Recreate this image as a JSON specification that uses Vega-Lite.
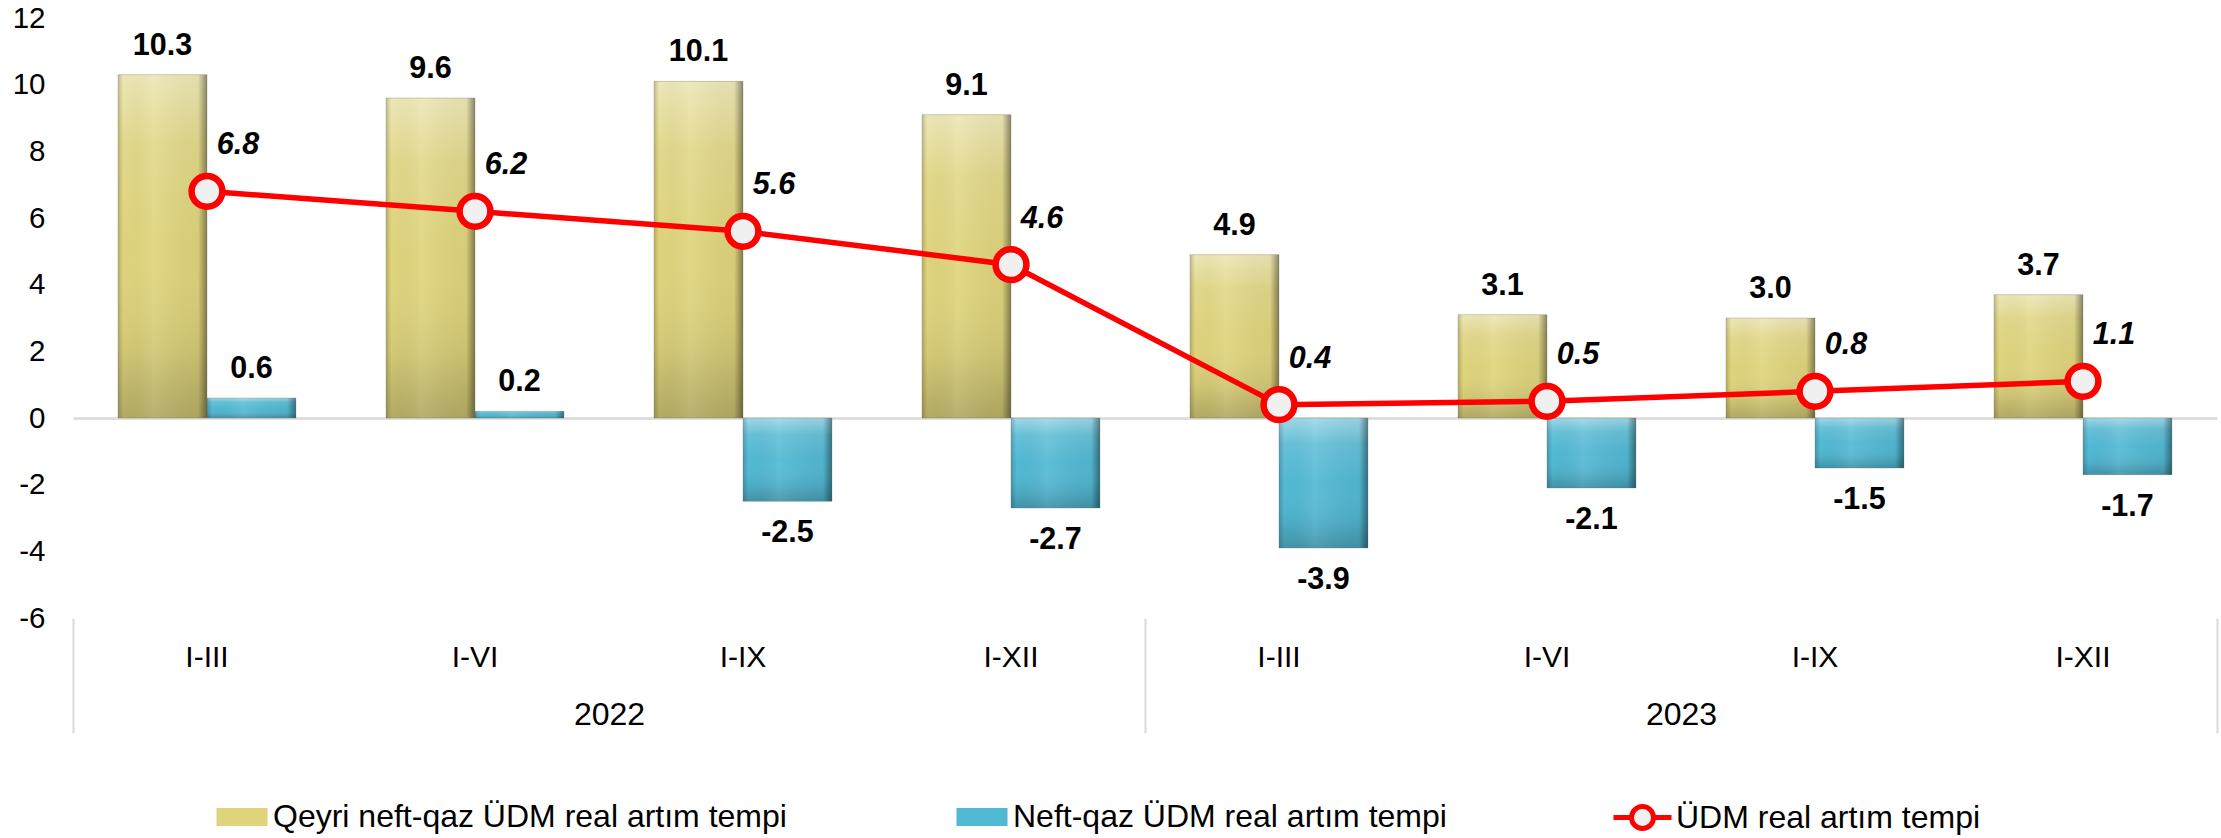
{
  "$schema": "https://vega.github.io/schema/vega-lite/v6.json",
  "width": 2144,
  "height": 600,
  "autosize": "none",
  "padding": {"left": 73, "top": 18, "right": 4, "bottom": 220},
  "background": "white",
  "config": {
    "font": "Liberation Sans",
    "view": {"stroke": null},
    "axis": {"labelFont": "Liberation Sans", "labelColor": "#000000"},
    "locale": {"number": {"decimal": ".", "thousands": ",", "grouping": [3], "currency": ["$", ""], "minus": "-"}}
  },
  "data": {
    "values": [
      {"year": "2022", "key": "2022 I-III", "series": "Qeyri neft-qaz ÜDM real artım tempi", "value": 10.3},
      {"year": "2022", "key": "2022 I-III", "series": "Neft-qaz ÜDM real artım tempi", "value": 0.6},
      {"year": "2022", "key": "2022 I-III", "series": "ÜDM real artım tempi", "value": 6.8},
      {"year": "2022", "key": "2022 I-VI", "series": "Qeyri neft-qaz ÜDM real artım tempi", "value": 9.6},
      {"year": "2022", "key": "2022 I-VI", "series": "Neft-qaz ÜDM real artım tempi", "value": 0.2},
      {"year": "2022", "key": "2022 I-VI", "series": "ÜDM real artım tempi", "value": 6.2},
      {"year": "2022", "key": "2022 I-IX", "series": "Qeyri neft-qaz ÜDM real artım tempi", "value": 10.1},
      {"year": "2022", "key": "2022 I-IX", "series": "Neft-qaz ÜDM real artım tempi", "value": -2.5},
      {"year": "2022", "key": "2022 I-IX", "series": "ÜDM real artım tempi", "value": 5.6},
      {"year": "2022", "key": "2022 I-XII", "series": "Qeyri neft-qaz ÜDM real artım tempi", "value": 9.1},
      {"year": "2022", "key": "2022 I-XII", "series": "Neft-qaz ÜDM real artım tempi", "value": -2.7},
      {"year": "2022", "key": "2022 I-XII", "series": "ÜDM real artım tempi", "value": 4.6},
      {"year": "2023", "key": "2023 I-III", "series": "Qeyri neft-qaz ÜDM real artım tempi", "value": 4.9},
      {"year": "2023", "key": "2023 I-III", "series": "Neft-qaz ÜDM real artım tempi", "value": -3.9},
      {"year": "2023", "key": "2023 I-III", "series": "ÜDM real artım tempi", "value": 0.4},
      {"year": "2023", "key": "2023 I-VI", "series": "Qeyri neft-qaz ÜDM real artım tempi", "value": 3.1},
      {"year": "2023", "key": "2023 I-VI", "series": "Neft-qaz ÜDM real artım tempi", "value": -2.1},
      {"year": "2023", "key": "2023 I-VI", "series": "ÜDM real artım tempi", "value": 0.5},
      {"year": "2023", "key": "2023 I-IX", "series": "Qeyri neft-qaz ÜDM real artım tempi", "value": 3.0},
      {"year": "2023", "key": "2023 I-IX", "series": "Neft-qaz ÜDM real artım tempi", "value": -1.5},
      {"year": "2023", "key": "2023 I-IX", "series": "ÜDM real artım tempi", "value": 0.8},
      {"year": "2023", "key": "2023 I-XII", "series": "Qeyri neft-qaz ÜDM real artım tempi", "value": 3.7},
      {"year": "2023", "key": "2023 I-XII", "series": "Neft-qaz ÜDM real artım tempi", "value": -1.7},
      {"year": "2023", "key": "2023 I-XII", "series": "ÜDM real artım tempi", "value": 1.1}
    ]
  },
  "resolve": {"scale": {"x": "independent"}, "axis": {"x": "independent"}},
  "layer": [
    {
      "mark": {"type": "text", "opacity": 0},
      "encoding": {
        "x": {
          "field": "year", "type": "nominal",
          "scale": {"type": "band", "paddingInner": 0, "paddingOuter": 0},
          "axis": {
            "orient": "bottom", "title": null, "domain": false, "grid": false,
            "ticks": true, "tickBand": "extent",
            "tickSize": 115, "tickColor": "#d9d9d9", "tickWidth": 2,
            "labelPadding": -34, "labelFontSize": 32,
            "labelAngle": 0
          }
        },
        "text": {"field": "year"}
      }
    },
    {
      "encoding": {
        "x": {
          "field": "key", "type": "nominal", "sort": null,
          "scale": {"paddingInner": 0.336, "paddingOuter": 0.168},
          "axis": {
            "orient": "bottom", "title": null, "domain": false, "ticks": false, "grid": false,
            "labelAngle": 0, "labelFontSize": 30, "labelPadding": 24,
            "labelExpr": "split(datum.value, ' ')[1]"
          }
        },
        "y": {
          "field": "value", "type": "quantitative",
          "scale": {"domain": [-6, 12], "nice": false},
          "axis": {
            "title": null, "domain": false, "ticks": false,
            "values": [-6, -4, -2, 0, 2, 4, 6, 8, 10, 12],
            "labelFontSize": 29.5, "labelPadding": 28,
            "grid": true,
            "gridColor": {"condition": {"test": "datum.value === 0", "value": "#d9d9d9"}, "value": "transparent"},
            "gridWidth": 2.5
          }
        }
      },
      "layer": [
        {
          "transform": [{"filter": "datum.series !== 'ÜDM real artım tempi'"}],
          "encoding": {
            "xOffset": {
              "field": "series", "type": "nominal",
              "scale": {"domain": ["Qeyri neft-qaz ÜDM real artım tempi", "Neft-qaz ÜDM real artım tempi"], "paddingInner": 0, "paddingOuter": 0}
            }
          },
          "layer": [
            {
              "mark": {"type": "bar"},
              "encoding": {
                "fill": {
                  "field": "series", "type": "nominal",
                  "scale": {
                    "domain": ["Qeyri neft-qaz ÜDM real artım tempi", "Neft-qaz ÜDM real artım tempi"],
                    "range": ["#dfd47c", "#52b9d4"]
                  },
                  "legend": {
                    "orient": "none", "legendX": 140, "legendY": 770, "direction": "horizontal",
                    "title": null, "padding": 0, "columnPadding": 166,
                    "labelFontSize": 32, "labelFont": "Liberation Sans", "labelColor": "#000000",
                    "labelOffset": 2, "labelLimit": 1000, "symbolSize": 3364, "symbolStrokeWidth": 0,
                    "symbolType": "M-0.88,-0.31H0.88V0.31H-0.88Z",
                    "symbolOpacity": 1
                  }
                }
              }
            },
            {
              "mark": {
                "type": "bar",
                "fill": {
                  "gradient": "linear", "x1": 0, "y1": 0, "x2": 0, "y2": 1,
                  "stops": [
                    {"offset": 0, "color": "rgba(255,255,255,0.45)"},
                    {"offset": 0.2, "color": "rgba(255,255,255,0.12)"},
                    {"offset": 0.5, "color": "rgba(255,255,255,0)"},
                    {"offset": 0.8, "color": "rgba(0,0,0,0.06)"},
                    {"offset": 1, "color": "rgba(0,0,0,0.2)"}
                  ]
                }
              },
              "encoding": {}
            },
            {
              "mark": {
                "type": "bar",
                "stroke": "#6f6c50", "strokeWidth": 0.6, "strokeOpacity": 0.5,
                "fill": {
                  "gradient": "linear", "x1": 0, "y1": 0, "x2": 1, "y2": 0,
                  "stops": [
                    {"offset": 0, "color": "rgba(0,0,0,0.18)"},
                    {"offset": 0.06, "color": "rgba(0,0,0,0)"},
                    {"offset": 0.4, "color": "rgba(255,255,255,0.08)"},
                    {"offset": 0.9, "color": "rgba(0,0,0,0.04)"},
                    {"offset": 1, "color": "rgba(0,0,0,0.42)"}
                  ]
                }
              },
              "encoding": {}
            },
            {
              "transform": [{"filter": "datum.value >= 0"}],
              "mark": {"type": "text", "fontSize": 30.5, "fontWeight": "bold", "baseline": "middle", "dy": -29, "fill": "#000000"},
              "encoding": {"text": {"field": "value", "type": "quantitative", "format": ".1f"}}
            },
            {
              "transform": [{"filter": "datum.value < 0"}],
              "mark": {"type": "text", "fontSize": 30.5, "fontWeight": "bold", "baseline": "middle", "dy": 32, "fill": "#000000"},
              "encoding": {"text": {"field": "value", "type": "quantitative", "format": ".1f"}}
            }
          ]
        },
        {
          "transform": [{"filter": "datum.series === 'ÜDM real artım tempi'"}],
          "layer": [
            {
              "mark": {"type": "line", "strokeWidth": 5.5},
              "encoding": {
                "stroke": {
                  "field": "series", "type": "nominal",
                  "scale": {"domain": ["ÜDM real artım tempi"], "range": ["#ff0000"]},
                  "legend": {
                    "orient": "none", "legendX": 1538, "legendY": 768, "direction": "horizontal",
                    "title": null, "padding": 0,
                    "labelFontSize": 32, "labelFont": "Liberation Sans", "labelColor": "#000000",
                    "labelOffset": 2, "labelLimit": 1000, "symbolSize": 3364, "symbolStrokeWidth": 5,
                    "symbolType": "M-1,0H-0.38M0.38,0H1M0.38,0A0.38,0.38 0 1,1 -0.38,0A0.38,0.38 0 1,1 0.38,0Z",
                    "symbolFillColor": "#f0f0f0",
                    "symbolOpacity": 1
                  }
                }
              }
            },
            {
              "mark": {"type": "point", "filled": true, "fill": "#f0f0f0", "stroke": "#ff0000", "strokeWidth": 6.5, "size": 950, "opacity": 1, "fillOpacity": 1, "strokeOpacity": 1},
              "encoding": {}
            },
            {
              "mark": {"type": "text", "fontSize": 30.5, "fontWeight": "bold", "fontStyle": "italic", "baseline": "middle", "align": "center", "dx": 31, "dy": -46, "fill": "#000000"},
              "encoding": {"text": {"field": "value", "type": "quantitative", "format": ".1f"}}
            }
          ]
        }
      ]
    }
  ]
}
